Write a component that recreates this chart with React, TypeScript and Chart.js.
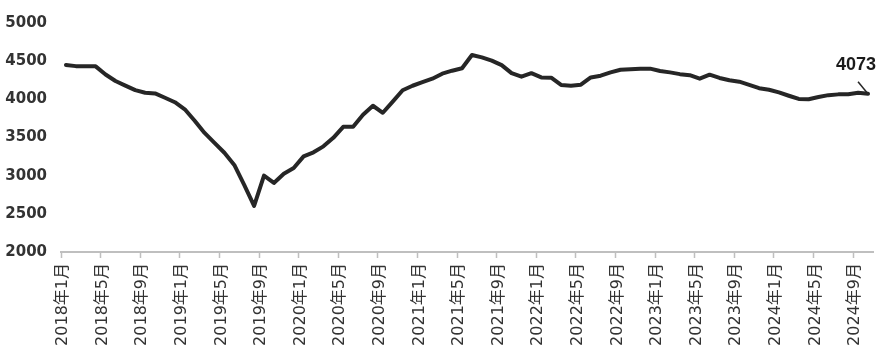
import React, { useEffect, useRef } from 'react';
import { Chart, registerables } from 'chart.js';

Chart.register(...registerables);

// Monthly categories: 2018年1月 … 2024年10月
const startYear = 2018;
const endYear = 2024;
const endMonth = 10;
const categories: string[] = [];
for (let y = startYear; y <= endYear; y++) {
  for (let m = 1; m <= 12; m++) {
    if (y === endYear && m > endMonth) break;
    categories.push(`${y}年${m}月`);
  }
}

const values2018 = [4450, 4435, 4432, 4432, 4325, 4240, 4180, 4120, 4087, 4077, 4021, 3962];
const values2019 = [3870, 3720, 3560, 3430, 3300, 3140, 2880, 2605, 3000, 2905, 3025, 3100];
const values2020 = [3253, 3306, 3384, 3496, 3640, 3640, 3798, 3916, 3824, 3969, 4119, 4178];
const values2021 = [4224, 4270, 4336, 4375, 4408, 4581, 4550, 4507, 4448, 4343, 4297, 4343];
const values2022 = [4287, 4283, 4188, 4178, 4192, 4287, 4310, 4353, 4388, 4395, 4402, 4402];
const values2023 = [4372, 4353, 4330, 4317, 4270, 4323, 4280, 4250, 4231, 4190, 4146, 4126];
const values2024 = [4092, 4047, 4005, 4002, 4030, 4055, 4065, 4068, 4085, 4073];

const values: number[] = [
  ...values2018, ...values2019, ...values2020, ...values2021,
  ...values2022, ...values2023, ...values2024,
];

const yTicks = [2000, 2500, 3000, 3500, 4000, 4500, 5000];
const labelEvery = 4;

const FONT = '"DejaVu Sans", "Noto Sans CJK SC", sans-serif';
const TEXT_COLOR = '#333333';
const AXIS_COLOR = '#bfbfbf';
const LINE_COLOR = '#262626';

const lastLabelPlugin = {
  id: 'lastLabel',
  afterDatasetsDraw(chart: any) {
    const meta = chart.getDatasetMeta(0);
    const pt = meta.data[meta.data.length - 1];
    if (!pt) return;
    const ctx = chart.ctx;
    ctx.save();
    ctx.strokeStyle = LINE_COLOR;
    ctx.lineWidth = 1.5;
    ctx.beginPath();
    ctx.moveTo(pt.x - 10, pt.y - 12);
    ctx.lineTo(pt.x - 1, pt.y - 1);
    ctx.stroke();
    ctx.font = 'bold 18px "Liberation Sans", Arial, sans-serif';
    ctx.fillStyle = '#1a1a1a';
    ctx.textAlign = 'center';
    ctx.textBaseline = 'middle';
    ctx.fillText(String(values[values.length - 1]), pt.x - 12, pt.y - 29);
    ctx.restore();
  },
};

export default function App() {
  const canvasRef = useRef<HTMLCanvasElement | null>(null);

  useEffect(() => {
    if (!canvasRef.current) return;
    const chart = new Chart(canvasRef.current, {
      type: 'line',
      data: {
        labels: categories,
        datasets: [
          {
            data: values,
            borderColor: LINE_COLOR,
            borderWidth: 4,
            pointRadius: 0,
            pointHoverRadius: 0,
            tension: 0,
            borderJoinStyle: 'round',
            borderCapStyle: 'round',
            fill: false,
          },
        ],
      },
      options: {
        animation: false,
        responsive: false,
        events: [],
        layout: { padding: { top: 23, right: 12, left: 0, bottom: 0 } },
        plugins: {
          legend: { display: false },
          tooltip: { enabled: false },
        },
        scales: {
          x: {
            type: 'category',
            offset: true,
            afterFit: (s: any) => {
              s.height = 104;
              s.paddingLeft = 0;
              s.paddingRight = 0;
            },
            grid: {
              offset: true,
              drawOnChartArea: false,
              drawTicks: true,
              tickLength: 6,
              tickWidth: 1.5,
              tickColor: (c: any) => (c.index % labelEvery === 0 ? AXIS_COLOR : 'rgba(0,0,0,0)'),
            },
            border: { display: true, color: AXIS_COLOR, width: 2 },
            ticks: {
              autoSkip: false,
              minRotation: 90,
              maxRotation: 90,
              padding: 5,
              labelOffset: -3,
              color: TEXT_COLOR,
              font: { family: FONT, size: 16 },
              callback: (_v: any, i: number) => (i % labelEvery === 0 ? categories[i] : ''),
            },
          },
          y: {
            min: yTicks[0],
            max: yTicks[yTicks.length - 1],
            afterFit: (s: any) => {
              s.width = 61;
              s.paddingTop = 0;
              s.paddingBottom = 0;
            },
            afterBuildTicks: (s: any) => {
              s.ticks = yTicks.map((v) => ({ value: v }));
            },
            grid: { display: false, drawTicks: false },
            border: { display: false },
            ticks: {
              padding: 14,
              color: TEXT_COLOR,
              font: { family: FONT, size: 15, weight: 'bold' },
              callback: (v: any) => String(v),
            },
          },
        },
      },
      plugins: [lastLabelPlugin],
    });
    return () => chart.destroy();
  }, []);

  return (
    <div style={{ position: 'absolute', left: 0, top: 0, width: 885, height: 356, background: '#fff' }}>
      <canvas ref={canvasRef} width={885} height={356} style={{ display: 'block' }} />
    </div>
  );
}
